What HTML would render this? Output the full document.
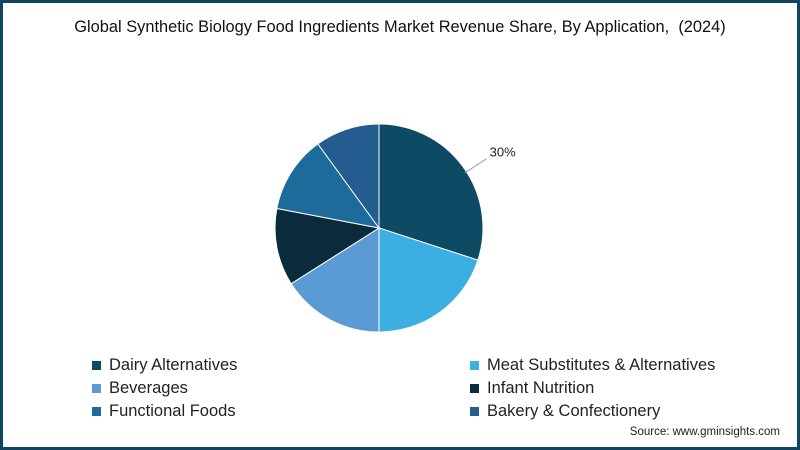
<!DOCTYPE html>
<html><head><meta charset="utf-8"><style>
body{margin:0;width:800px;height:450px;overflow:hidden;background:#fff;font-family:"Liberation Sans",sans-serif}
#frame{position:absolute;left:0;top:0;width:794px;height:444px;border:3px solid #0f4560;background:#fff}
#title{position:absolute;left:0;width:800px;top:18px;text-align:center;font-size:16.4px;color:#111}
.leg{position:absolute;font-size:16.5px;color:#222;display:flex;align-items:center}
.sw{width:9px;height:9px;margin-right:8px}
#src{position:absolute;right:20px;top:426px;font-size:11.5px;color:#222}
</style></head><body>
<div id="frame"></div>
<div id="title">Global Synthetic Biology Food Ingredients Market Revenue Share, By Application,&nbsp; (2024)</div>
<svg id="pie" width="800" height="450" style="position:absolute;left:0;top:0"></svg>
<div id="legend"></div>
<div id="src">Source: www.gminsights.com</div>
<script>
const categories=["Dairy Alternatives","Meat Substitutes & Alternatives","Beverages","Infant Nutrition","Functional Foods","Bakery & Confectionery"];
const shares=[30,20,16,12,12,10];
const colors=["#0d4a63","#3daee2","#5b9bd5","#0b2b3c","#1c6b9b","#255c90"];
const labels=["30%","","","","",""];
const svg=document.getElementById('pie');
const NS="http://www.w3.org/2000/svg";
const cx=379,cy=228,r=104;
const total=shares.reduce((a,b)=>a+b,0);
function pt(f,rr){const a=f*2*Math.PI;return [cx+rr*Math.sin(a),cy-rr*Math.cos(a)];}
let acc=0;
shares.forEach((v,i)=>{
 const f0=acc/total,f1=(acc+v)/total;acc+=v;
 const [x0,y0]=pt(f0,r),[x1,y1]=pt(f1,r);
 const p=document.createElementNS(NS,'path');
 p.setAttribute('d',`M${cx},${cy}L${x0},${y0}A${r},${r} 0 ${f1-f0>0.5?1:0} 1 ${x1},${y1}Z`);
 p.setAttribute('fill',colors[i]);p.setAttribute('stroke','#fff');p.setAttribute('stroke-width','1');
 
 
 svg.appendChild(p);
 if(labels[i]){
  const fm=f0+(f1-f0)*0.53;
  const [lx0,ly0]=pt(fm,r-2),[lx1,ly1]=pt(fm,r+24);
  const l=document.createElementNS(NS,'path');
  l.setAttribute('d',`M${lx0},${ly0}L${lx1},${ly1}`);
  l.setAttribute('stroke','#999');l.setAttribute('fill','none');
  
  
  svg.appendChild(l);
  const t=document.createElementNS(NS,'text');
  t.setAttribute('x',lx1+3);t.setAttribute('y',ly1-2);t.setAttribute('font-size','13');t.setAttribute('fill','#222');
  t.setAttribute('font-family','Liberation Sans, sans-serif');
  t.textContent=labels[i];
  
  
  svg.appendChild(t);
 }
});
const leg=document.getElementById('legend');
categories.forEach((c,i)=>{
 const d=document.createElement('div');d.className='leg';
 d.style.left=(i%2?470:92)+'px';d.style.top=(356+Math.floor(i/2)*23)+'px';
 d.innerHTML=`<span class="sw" style="background:${colors[i]}"></span>${c.replace('&','&amp;')}`;
 
 
 leg.appendChild(d);
});
</script>
</body></html>
